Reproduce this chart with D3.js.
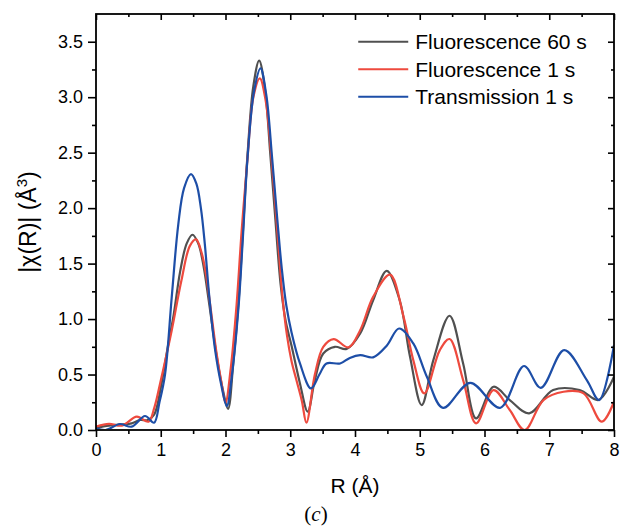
<!DOCTYPE html>
<html>
<head>
<meta charset="utf-8">
<script src="https://cdn.jsdelivr.net/npm/d3@7"></script>
<style>
  body { margin: 0; background: #fff; }
  svg { display: block; font-family: "Liberation Sans", Arial, sans-serif; }
</style>
</head>
<body>
<div id="chart"></div>
<script>
// values: [R (Å), |χ(R)|]
const fluo60 = [
  [0, 0.02], [0.2, 0.04], [0.4, 0.05], [0.55, 0.06], [0.68, 0.09], [0.8, 0.09], [0.9, 0.14],
  [1.0, 0.38], [1.1, 0.72], [1.2, 1.04], [1.3, 1.43], [1.4, 1.68], [1.49, 1.76], [1.58, 1.68],
  [1.66, 1.48], [1.74, 1.17], [1.86, 0.68], [1.96, 0.36], [2.04, 0.19], [2.12, 0.6], [2.2, 1.14],
  [2.27, 1.8], [2.34, 2.48], [2.43, 3.1], [2.52, 3.33], [2.61, 3.07], [2.69, 2.5], [2.77, 1.9],
  [2.85, 1.32], [2.93, 0.98], [3.02, 0.76], [3.15, 0.42], [3.27, 0.165], [3.38, 0.45], [3.51, 0.69],
  [3.69, 0.75], [3.87, 0.73], [4.08, 0.87], [4.28, 1.17], [4.49, 1.435], [4.69, 1.17], [4.85, 0.66],
  [5.03, 0.225], [5.21, 0.63], [5.46, 1.03], [5.67, 0.6], [5.87, 0.105], [6.14, 0.39], [6.39, 0.27],
  [6.69, 0.15], [7.06, 0.36], [7.47, 0.36], [7.76, 0.27], [8.0, 0.48]
];
const fluo1 = [
  [0, 0.03], [0.2, 0.055], [0.4, 0.04], [0.63, 0.12], [0.81, 0.075], [0.9, 0.2], [0.99, 0.42],
  [1.17, 0.9], [1.32, 1.35], [1.45, 1.66], [1.545, 1.718], [1.63, 1.6], [1.7, 1.4], [1.77, 1.1],
  [1.86, 0.7], [1.94, 0.42], [2.0, 0.246], [2.08, 0.55], [2.17, 1.12], [2.25, 1.8], [2.34, 2.45],
  [2.43, 3.0], [2.53, 3.17], [2.62, 2.97], [2.71, 2.45], [2.8, 1.8], [2.88, 1.2], [2.95, 0.85],
  [3.02, 0.62], [3.1, 0.44], [3.18, 0.26], [3.25, 0.066], [3.38, 0.5], [3.51, 0.75], [3.67, 0.82],
  [3.9, 0.745], [4.08, 0.9], [4.28, 1.2], [4.54, 1.4], [4.75, 1.02], [4.9, 0.63], [5.07, 0.33],
  [5.31, 0.72], [5.46, 0.82], [5.67, 0.45], [5.87, 0.06], [6.14, 0.36], [6.39, 0.18], [6.62, 0.0],
  [6.91, 0.27], [7.22, 0.345], [7.53, 0.33], [7.81, 0.075], [8.0, 0.255]
];
const trans1 = [
  [0, 0.015], [0.15, 0.0], [0.37, 0.054], [0.55, 0.03], [0.757, 0.126], [0.896, 0.066], [0.98, 0.25],
  [1.066, 0.5], [1.17, 1.2], [1.27, 1.85], [1.36, 2.18], [1.467, 2.306], [1.55, 2.22], [1.62, 2.0],
  [1.68, 1.68], [1.75, 1.2], [1.84, 0.72], [1.93, 0.42], [2.02, 0.216], [2.1, 0.5], [2.2, 1.1],
  [2.27, 1.75], [2.34, 2.45], [2.44, 3.05], [2.54, 3.26], [2.63, 3.02], [2.72, 2.45], [2.8, 1.9],
  [2.87, 1.45], [2.94, 1.12], [3.02, 0.88], [3.15, 0.6], [3.32, 0.375], [3.45, 0.5], [3.56, 0.6],
  [3.77, 0.6], [3.92, 0.65], [4.08, 0.675], [4.28, 0.655], [4.49, 0.76], [4.68, 0.915], [4.9, 0.78],
  [5.11, 0.48], [5.36, 0.2], [5.78, 0.425], [6.24, 0.2], [6.61, 0.577], [6.87, 0.38], [7.23, 0.72],
  [7.58, 0.45], [7.77, 0.27], [8.0, 0.765]
];

const seriesNames = ['Fluorescence 60 s', 'Fluorescence 1 s', 'Transmission 1 s'];
const seriesColors = ['#505050', '#ee4a3e', '#1d4ea7'];
const xTicks = [0, 1, 2, 3, 4, 5, 6, 7, 8];
const yTicks = [0, 0.5, 1.0, 1.5, 2.0, 2.5, 3.0, 3.5];

const width = 620, height = 526;
const margin = { top: 14, right: 6, bottom: 96, left: 96 };
const iw = width - margin.left - margin.right;
const ih = height - margin.top - margin.bottom;

const svg = d3.select('#chart').append('svg')
  .attr('width', width)
  .attr('height', height);

const x = d3.scaleLinear().domain([0, 8]).range([0, iw]);
const y = d3.scaleLinear().domain([0, 3.75]).range([ih, 0]);

const g = svg.append('g').attr('transform', `translate(${margin.left},${margin.top})`);

g.append('clipPath').attr('id', 'clip')
  .append('rect').attr('x', 0).attr('y', -2).attr('width', iw).attr('height', ih + 1);

const line = d3.line()
  .x(d => x(d[0]))
  .y(d => y(d[1]))
  .curve(d3.curveCatmullRom.alpha(0.5));

[fluo60, fluo1, trans1].forEach((data, i) => {
  g.append('path')
    .attr('d', line(data))
    .attr('clip-path', 'url(#clip)')
    .attr('fill', 'none')
    .attr('stroke', seriesColors[i])
    .attr('stroke-width', 2.2)
    .attr('stroke-linejoin', 'round');
});

// axes: bottom / left ticks outward, top / right inward
const minorX = d3.range(0.5, 8, 1);
const minorY = d3.range(0.25, 3.75, 0.5);
const fmtY = d3.format('.1f');

const styleAxis = sel => {
  sel.select('.domain').remove();
  sel.selectAll('line').attr('stroke', '#000').attr('stroke-width', 1.6);
  sel.selectAll('text').attr('fill', '#000').attr('font-size', 18);
};

g.append('g').attr('transform', `translate(0,${ih})`)
  .call(d3.axisBottom(x).tickValues(xTicks).tickFormat(d3.format('d')).tickSize(7).tickPadding(6))
  .call(styleAxis);
g.append('g').attr('transform', `translate(0,${ih})`)
  .call(d3.axisBottom(x).tickValues(minorX).tickFormat('').tickSize(4))
  .call(styleAxis);
g.append('g')
  .call(d3.axisLeft(y).tickValues(yTicks).tickFormat(fmtY).tickSize(8).tickPadding(5))
  .call(styleAxis);
g.append('g')
  .call(d3.axisLeft(y).tickValues(minorY).tickFormat('').tickSize(4))
  .call(styleAxis);
g.append('g')
  .call(d3.axisTop(x).tickValues(xTicks).tickFormat('').tickSize(-6))
  .call(styleAxis);
g.append('g')
  .call(d3.axisTop(x).tickValues(minorX).tickFormat('').tickSize(-3))
  .call(styleAxis);
g.append('g').attr('transform', `translate(${iw},0)`)
  .call(d3.axisRight(y).tickValues(yTicks).tickFormat('').tickSize(-6))
  .call(styleAxis);
g.append('g').attr('transform', `translate(${iw},0)`)
  .call(d3.axisRight(y).tickValues(minorY).tickFormat('').tickSize(-3))
  .call(styleAxis);

g.append('rect')
  .attr('width', iw).attr('height', ih)
  .attr('fill', 'none').attr('stroke', '#000').attr('stroke-width', 1.8);

// legend
const legend = g.append('g').attr('transform', `translate(${x(4.05)},${y(3.5)})`);
seriesNames.forEach((name, i) => {
  const row = legend.append('g').attr('transform', `translate(0,${i * 27.5})`);
  row.append('line')
    .attr('x1', 0).attr('x2', 50)
    .attr('stroke', seriesColors[i]).attr('stroke-width', 2);
  row.append('text')
    .attr('x', 57).attr('dy', '0.36em')
    .attr('font-size', 21)
    .text(name);
});

// axis titles
svg.append('text')
  .attr('x', margin.left + iw / 2).attr('y', 493)
  .attr('text-anchor', 'middle').attr('font-size', 21)
  .text('R (Å)');

const yTitle = svg.append('text')
  .attr('transform', `translate(36,${margin.top + ih / 2}) rotate(-90)`)
  .attr('text-anchor', 'middle').attr('font-size', 23);
yTitle.append('tspan').text('|χ(R)| (Å');
yTitle.append('tspan').attr('font-size', 15).attr('dy', -9).text('3');
yTitle.append('tspan').attr('dy', 9).text(')');

const caption = svg.append('text')
  .attr('x', 316).attr('y', 521)
  .attr('text-anchor', 'middle')
  .attr('font-family', '"Liberation Serif", "Times New Roman", serif')
  .attr('font-size', 21);
caption.append('tspan').text('(');
caption.append('tspan').attr('font-style', 'italic').text('c');
caption.append('tspan').text(')');
</script>
</body>
</html>
